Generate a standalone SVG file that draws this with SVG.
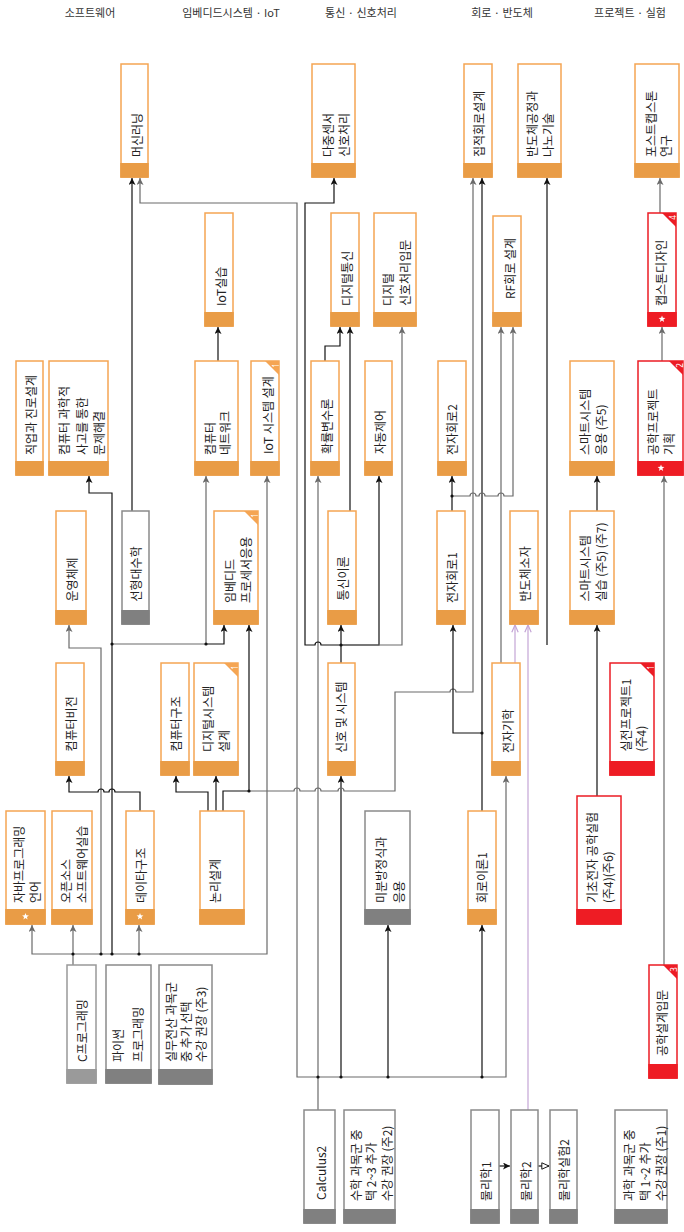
<svg xmlns="http://www.w3.org/2000/svg" xmlns:xlink="http://www.w3.org/1999/xlink" width="684" height="1232" viewBox="0 0 684 1232">
<defs>
<style>
.box{fill:#fff;stroke-width:1.5}
.o .box{stroke:#F5A553}.o .bar{fill:#E99C46}.o .cn{fill:#F5A553}
.g .box{stroke:#8a8a8a}.g .bar{fill:#808080}
.g2 .box{stroke:#999}.g2 .bar{fill:#9a9a9a}
.r .box{stroke:#EC1C24}.r .bar{fill:#EE1C24}.r .cn{fill:#EC1C24}
.t{font-family:"Noto Sans CJK KR","Noto Sans",sans-serif;font-size:12px;fill:#222;dominant-baseline:central}
.cd{font-family:"Noto Sans","Noto Sans CJK KR",sans-serif;font-size:8px;fill:#fff;dominant-baseline:central;text-anchor:middle}
.h{font-family:"Noto Sans CJK KR","Noto Sans",sans-serif;font-size:11px;fill:#333;text-anchor:middle}
.e{fill:none;stroke-width:1.2}
.k{stroke:#111}.gr{stroke:#6a6a6a}.p{stroke:#C4A5D6}
.ka{marker-end:url(#ak)}.ga{marker-end:url(#ag)}.pa{marker-end:url(#ap)}
.dot{fill:#111}
.star{fill:#fff}
</style>
<marker id="ak" viewBox="0 0 10 10" refX="10" refY="5" markerWidth="7" markerHeight="7" markerUnits="userSpaceOnUse" orient="auto"><path d="M0,0L10,5L0,10L2.5,5z" fill="#111"/></marker>
<marker id="ag" viewBox="0 0 10 10" refX="10" refY="5" markerWidth="7" markerHeight="7" markerUnits="userSpaceOnUse" orient="auto"><path d="M0,0L10,5L0,10L2.5,5z" fill="#6a6a6a"/></marker>
<marker id="ap" viewBox="0 0 10 10" refX="10" refY="5" markerWidth="8" markerHeight="8" markerUnits="userSpaceOnUse" orient="auto"><path d="M1,1L10,5L1,9" fill="none" stroke="#C4A5D6" stroke-width="1.5"/></marker>
<marker id="ao" viewBox="0 0 10 10" refX="10" refY="5" markerWidth="8" markerHeight="8" markerUnits="userSpaceOnUse" orient="auto"><path d="M1,1L10,5L1,9z" fill="#fff" stroke="#111" stroke-width="1.2"/></marker>
<path id="star" d="M0,-3.6L0.88,-1.21L3.42,-1.11L1.43,0.46L2.12,2.91L0,1.5L-2.12,2.91L-1.43,0.46L-3.42,-1.11L-0.88,-1.21Z"/>
</defs>
<rect width="684" height="1232" fill="#fff"/>

<g id="headers">
<text class="h" x="90" y="17">소프트웨어</text>
<text class="h" x="231" y="17">임베디드시스템 · IoT</text>
<text class="h" x="361" y="17">통신 · 신호처리</text>
<text class="h" x="502" y="17">회로 · 반도체</text>
<text class="h" x="630" y="17">프로젝트 · 실험</text>
</g>

<g id="connectors">
<path class="e k ka" d="M132,511V178"/>
<path class="e gr ga" d="M318,1077H297V203H140V178"/>
<path class="e gr ga" d="M318,1110V476"/>
<path class="e gr ga" d="M318,1077H506V776"/>
<path class="e k ka" d="M341,1077V776"/>
<path class="e k ka" d="M388,1077V925"/>
<path class="e k ka" d="M482,1077V925"/>
<path class="e k ka" d="M341,663V625"/>
<path class="e k ka" d="M341,645H321a3,3 0 0 0 -6,0H305V203H334V178"/>
<path class="e k ka" d="M341,645H379V476"/>
<path class="e gr ga" d="M341,645H402V327"/>
<path class="e k ka" d="M325,361V346H340V327"/>
<path class="e k ka" d="M350,511V327"/>
<path class="e k ka" d="M218,361V327"/>
<path class="e gr ga" d="M73,965V925"/>
<path class="e gr ga" d="M73,954H32V925"/>
<path class="e gr ga" d="M73,954H139V925"/>
<path class="e gr ga" d="M101,954V648H69V625"/>
<path class="e k ka" d="M112,954V493H89V476"/>
<path class="e gr ga" d="M112,644H206V476"/>
<path class="e k ka" d="M206,644H224V625"/>
<path class="e gr ga" d="M139,954H267V476"/>
<path class="e k ka" d="M140,811V792H115a3,3 0 0 0 -6,0H104a3,3 0 0 0 -6,0H69V776"/>
<path class="e k ka" d="M208,811V792H176V776"/>
<path class="e k ka" d="M216,811V776"/>
<path class="e k ka" d="M223,811V791H249V625"/>
<path class="e gr ga" d="M249,791H294a3,3 0 0 1 6,0H315a3,3 0 0 1 6,0H338a3,3 0 0 1 6,0H395V692H450a3,3 0 0 1 6,0H473V178"/>
<path class="e k ka" d="M482,811V733H453V625"/>
<path class="e k ka" d="M482,733V178"/>
<path class="e k ka" d="M452,511V476"/>
<path class="e gr ga" d="M452,496H470a3,3 0 0 1 6,0H479a3,3 0 0 1 6,0H498a3,3 0 0 1 6,0H513V327"/>
<path class="e gr ga" d="M501,663V327"/>
<path class="e p pa" d="M515,663V625"/>
<path class="e p pa" d="M528,1110V625"/>
<path class="e k ka" d="M547,645V178"/>
<path class="e k ka" d="M499,1166H510"/>
<path class="e k" marker-end="url(#ao)" d="M538,1166H549"/>
<path class="e k ka" d="M597,796V625"/>
<path class="e k ka" d="M597,511V476"/>
<path class="e gr ga" d="M664,965V476"/>
<path class="e gr ga" d="M662,361V327"/>
<path class="e gr ga" d="M660,213V178"/>
<g class="dot">
<circle cx="73" cy="954" r="1.6"/><circle cx="101" cy="954" r="1.6"/><circle cx="112" cy="954" r="1.6"/><circle cx="139" cy="954" r="1.6"/>
<circle cx="112" cy="644" r="1.6"/><circle cx="206" cy="644" r="1.6"/><circle cx="249" cy="791" r="1.6"/><circle cx="341" cy="645" r="1.6"/>
<circle cx="318" cy="1077" r="1.6"/><circle cx="341" cy="1077" r="1.6"/><circle cx="388" cy="1077" r="1.6"/><circle cx="482" cy="1077" r="1.6"/>
<circle cx="482" cy="733" r="1.6"/><circle cx="452" cy="496" r="1.6"/>
</g>
</g>

<g id="nodes">
<g id="n-ml" class="o"><rect class="box" x="121" y="64" width="27" height="113"/><rect class="bar" x="120.25" y="163" width="28.5" height="14.75"/><text class="t" transform="translate(136,157) rotate(-90)">머신러닝</text></g>
<g id="n-mss" class="o"><rect class="box" x="312" y="64" width="43" height="113"/><rect class="bar" x="311.25" y="163" width="44.5" height="14.75"/><text class="t" transform="translate(327.5,157) rotate(-90)">다중센서</text><text class="t" transform="translate(343,157) rotate(-90)">신호처리</text></g>
<g id="n-ic" class="o"><rect class="box" x="464" y="64" width="28" height="113"/><rect class="bar" x="463.25" y="163" width="29.5" height="14.75"/><text class="t" transform="translate(478,157) rotate(-90)">집적회로설계</text></g>
<g id="n-semi" class="o"><rect class="box" x="518" y="64" width="43" height="113"/><rect class="bar" x="517.25" y="163" width="44.5" height="14.75"/><text class="t" transform="translate(531.5,157) rotate(-90)">반도체공정과</text><text class="t" transform="translate(547.3,157) rotate(-90)">나노기술</text></g>
<g id="n-post" class="o"><rect class="box" x="635" y="64" width="44" height="113"/><rect class="bar" x="634.25" y="163" width="45.5" height="14.75"/><text class="t" transform="translate(650.5,157) rotate(-90)">포스트캡스톤</text><text class="t" transform="translate(665,157) rotate(-90)">연구</text></g>

<g id="n-iotlab" class="o"><rect class="box" x="205" y="213" width="28" height="113"/><rect class="bar" x="204.25" y="312" width="29.5" height="14.75"/><text class="t" transform="translate(220,306) rotate(-90)">IoT실습</text></g>
<g id="n-dcomm" class="o"><rect class="box" x="331" y="213" width="28" height="113"/><rect class="bar" x="330.25" y="312" width="29.5" height="14.75"/><text class="t" transform="translate(346.5,306) rotate(-90)">디지털통신</text></g>
<g id="n-dsp" class="o"><rect class="box" x="374" y="213" width="42" height="113"/><rect class="bar" x="373.25" y="312" width="43.5" height="14.75"/><text class="t" transform="translate(387,306) rotate(-90)">디지털</text><text class="t" transform="translate(404,306) rotate(-90)">신호처리입문</text></g>
<g id="n-rf" class="o"><rect class="box" x="493" y="216" width="28" height="110"/><rect class="bar" x="492.25" y="312" width="29.5" height="14.75"/><text class="t" transform="translate(509,299) rotate(-90)">RF회로 설계</text></g>
<g id="n-cap" class="r"><rect class="box" x="648" y="213" width="28" height="113"/><rect class="bar" x="647.25" y="312" width="29.5" height="14.75"/><polygon class="cn" points="662,213 676,213 676,227"/><text class="cd" transform="translate(672,217.5) rotate(-90)">4</text><use href="#star" class="star" x="662" y="319"/><text class="t" transform="translate(660.5,306) rotate(-90)">캡스톤디자인</text></g>

<g id="n-career" class="o"><rect class="box" x="16" y="361" width="27" height="114"/><rect class="bar" x="15.25" y="461" width="28.5" height="14.75"/><text class="t" transform="translate(30,455) rotate(-90)">직업과 진로설계</text></g>
<g id="n-ct" class="o"><rect class="box" x="49" y="361" width="59" height="114"/><rect class="bar" x="48.25" y="461" width="60.5" height="14.75"/><text class="t" transform="translate(63.7,455) rotate(-90)">컴퓨터 과학적</text><text class="t" transform="translate(81.5,455) rotate(-90)">사고를 통한</text><text class="t" transform="translate(98.5,455) rotate(-90)">문제해결</text></g>
<g id="n-net" class="o"><rect class="box" x="195" y="361" width="43" height="114"/><rect class="bar" x="194.25" y="461" width="44.5" height="14.75"/><text class="t" transform="translate(209,455) rotate(-90)">컴퓨터</text><text class="t" transform="translate(224,455) rotate(-90)">네트워크</text></g>
<g id="n-iotsys" class="o"><rect class="box" x="251" y="361" width="28" height="114"/><rect class="bar" x="250.25" y="461" width="29.5" height="14.75"/><polygon class="cn" points="265,361 279,361 279,375"/><text class="cd" transform="translate(275,365.5) rotate(-90)">1</text><text class="t" transform="translate(267,454) rotate(-90)">IoT 시스템 설계</text></g>
<g id="n-prob" class="o"><rect class="box" x="311" y="361" width="28" height="114"/><rect class="bar" x="310.25" y="461" width="29.5" height="14.75"/><text class="t" transform="translate(326,454) rotate(-90)">확률변수론</text></g>
<g id="n-ctrl" class="o"><rect class="box" x="365" y="361" width="27" height="114"/><rect class="bar" x="364.25" y="461" width="28.5" height="14.75"/><text class="t" transform="translate(379,454) rotate(-90)">자동제어</text></g>
<g id="n-ec2" class="o"><rect class="box" x="438" y="361" width="28" height="114"/><rect class="bar" x="437.25" y="461" width="29.5" height="14.75"/><text class="t" transform="translate(451,455) rotate(-90)">전자회로2</text></g>
<g id="n-sapp" class="o"><rect class="box" x="570" y="361" width="44" height="114"/><rect class="bar" x="569.25" y="461" width="45.5" height="14.75"/><text class="t" transform="translate(584.5,455) rotate(-90)">스마트시스템</text><text class="t" transform="translate(600,455) rotate(-90)">응용 (주5)</text></g>
<g id="n-epp" class="r"><rect class="box" x="638" y="361" width="45" height="114"/><rect class="bar" x="637.25" y="461" width="46.5" height="14.75"/><polygon class="cn" points="669,361 683,361 683,375"/><text class="cd" transform="translate(679,365.5) rotate(-90)">2</text><use href="#star" class="star" x="661" y="468"/><text class="t" transform="translate(652.5,455) rotate(-90)">공학프로젝트</text><text class="t" transform="translate(668,455) rotate(-90)">기획</text></g>

<g id="n-os" class="o"><rect class="box" x="56" y="511" width="30" height="113"/><rect class="bar" x="55.25" y="610" width="31.5" height="14.75"/><text class="t" transform="translate(71.5,601.5) rotate(-90)">운영체제</text></g>
<g id="n-la" class="g"><rect class="box" x="122" y="511" width="27" height="113"/><rect class="bar" x="121.25" y="610" width="28.5" height="14.75"/><text class="t" transform="translate(135.3,601.5) rotate(-90)">선형대수학</text></g>
<g id="n-emb" class="o"><rect class="box" x="214" y="511" width="44" height="113"/><rect class="bar" x="213.25" y="610" width="45.5" height="14.75"/><polygon class="cn" points="244,511 258,511 258,525"/><text class="cd" transform="translate(254,515.5) rotate(-90)">1</text><text class="t" transform="translate(229,603) rotate(-90)">임베디드</text><text class="t" transform="translate(245,603) rotate(-90)">프로세서응용</text></g>
<g id="n-comm" class="o"><rect class="box" x="328" y="511" width="28" height="113"/><rect class="bar" x="327.25" y="610" width="29.5" height="14.75"/><text class="t" transform="translate(342,600.5) rotate(-90)">통신이론</text></g>
<g id="n-ec1" class="o"><rect class="box" x="437" y="511" width="28" height="113"/><rect class="bar" x="436.25" y="610" width="29.5" height="14.75"/><text class="t" transform="translate(451,603) rotate(-90)">전자회로1</text></g>
<g id="n-sdev" class="o"><rect class="box" x="510" y="511" width="28" height="113"/><rect class="bar" x="509.25" y="610" width="29.5" height="14.75"/><text class="t" transform="translate(524,601.5) rotate(-90)">반도체소자</text></g>
<g id="n-slab" class="o"><rect class="box" x="570" y="511" width="44" height="113"/><rect class="bar" x="569.25" y="610" width="45.5" height="14.75"/><text class="t" transform="translate(584.5,601.5) rotate(-90)">스마트시스템</text><text class="t" transform="translate(600,601.5) rotate(-90)">실습 (주5) (주7)</text></g>

<g id="n-cv" class="o"><rect class="box" x="56" y="663" width="28" height="112"/><rect class="bar" x="55.25" y="761" width="29.5" height="14.75"/><text class="t" transform="translate(70,751.5) rotate(-90)">컴퓨터비전</text></g>
<g id="n-ca" class="o"><rect class="box" x="161" y="663" width="28" height="112"/><rect class="bar" x="160.25" y="761" width="29.5" height="14.75"/><text class="t" transform="translate(175,751.5) rotate(-90)">컴퓨터구조</text></g>
<g id="n-dsd" class="o"><rect class="box" x="194" y="663" width="44" height="112"/><rect class="bar" x="193.25" y="761" width="45.5" height="14.75"/><polygon class="cn" points="224,663 238,663 238,677"/><text class="cd" transform="translate(234,667.5) rotate(-90)">1</text><text class="t" transform="translate(207.5,752) rotate(-90)">디지털시스템</text><text class="t" transform="translate(223,752) rotate(-90)">설계</text></g>
<g id="n-ss" class="o"><rect class="box" x="328" y="663" width="27" height="112"/><rect class="bar" x="327.25" y="761" width="28.5" height="14.75"/><text class="t" transform="translate(340.5,753) rotate(-90)">신호 및 시스템</text></g>
<g id="n-em" class="o"><rect class="box" x="492" y="663" width="28" height="112"/><rect class="bar" x="491.25" y="761" width="29.5" height="14.75"/><text class="t" transform="translate(507,753) rotate(-90)">전자기학</text></g>
<g id="n-pp1" class="r"><rect class="box" x="610" y="663" width="44" height="112"/><rect class="bar" x="609.25" y="761" width="45.5" height="14.75"/><polygon class="cn" points="640,663 654,663 654,677"/><text class="cd" transform="translate(650,667.5) rotate(-90)">1</text><text class="t" transform="translate(625,751.5) rotate(-90)">실전프로젝트1</text><text class="t" transform="translate(640,751.5) rotate(-90)">(주4)</text></g>

<g id="n-java" class="o"><rect class="box" x="6" y="811" width="39" height="113"/><rect class="bar" x="5.25" y="909" width="40.5" height="15.75"/><use href="#star" class="star" x="25.5" y="916.5"/><text class="t" transform="translate(18,903) rotate(-90)">자바프로그래밍</text><text class="t" transform="translate(34,903) rotate(-90)">언어</text></g>
<g id="n-oss" class="o"><rect class="box" x="52" y="811" width="40" height="113"/><rect class="bar" x="51.25" y="909" width="41.5" height="15.75"/><text class="t" transform="translate(65.3,903) rotate(-90)">오픈소스</text><text class="t" transform="translate(81,903) rotate(-90)">소프트웨어실습</text></g>
<g id="n-ds" class="o"><rect class="box" x="126" y="811" width="28" height="113"/><rect class="bar" x="125.25" y="909" width="29.5" height="15.75"/><use href="#star" class="star" x="140" y="916.5"/><text class="t" transform="translate(140,903) rotate(-90)">데이타구조</text></g>
<g id="n-logic" class="o"><rect class="box" x="200" y="811" width="44" height="113"/><rect class="bar" x="199.25" y="909" width="45.5" height="15.75"/><text class="t" transform="translate(214,903) rotate(-90)">논리설계</text></g>
<g id="n-de" class="g"><rect class="box" x="365" y="811" width="45" height="113"/><rect class="bar" x="364.25" y="909" width="46.5" height="15.75"/><text class="t" transform="translate(380,903) rotate(-90)">미분방정식과</text><text class="t" transform="translate(398,903) rotate(-90)">응용</text></g>
<g id="n-ct1" class="o"><rect class="box" x="468" y="811" width="28" height="113"/><rect class="bar" x="467.25" y="909" width="29.5" height="15.75"/><text class="t" transform="translate(481.5,903) rotate(-90)">회로이론1</text></g>
<g id="n-bee" class="r"><rect class="box" x="577" y="796" width="44" height="128"/><rect class="bar" x="576.25" y="909" width="45.5" height="15.75"/><text class="t" transform="translate(591.5,903) rotate(-90)">기초전자 공학실험</text><text class="t" transform="translate(607,903) rotate(-90)">(주4)(주6)</text></g>

<g id="n-c" class="g2"><rect class="box" x="67" y="965" width="29" height="118"/><rect class="bar" x="66.25" y="1069" width="30.5" height="14.75"/><text class="t" transform="translate(81.5,1062) rotate(-90)">C프로그래밍</text></g>
<g id="n-py" class="g"><rect class="box" x="106" y="965" width="45" height="118"/><rect class="bar" x="105.25" y="1069" width="46.5" height="14.75"/><text class="t" transform="translate(117.5,1062) rotate(-90)">파이썬</text><text class="t" transform="translate(137.5,1062) rotate(-90)">프로그래밍</text></g>
<g id="n-prac" class="g"><rect class="box" x="159" y="965" width="53" height="119"/><rect class="bar" x="158.25" y="1069" width="54.5" height="15.75"/><text class="t" transform="translate(170.8,1062) rotate(-90)">실무전산 과목군</text><text class="t" transform="translate(185.8,1062) rotate(-90)">중 추가 선택</text><text class="t" transform="translate(200.8,1062) rotate(-90)">수강 권장 (주3)</text></g>
<g id="n-ed" class="r"><rect class="box" x="649" y="965" width="28" height="113"/><rect class="bar" x="648.25" y="1064" width="29.5" height="14.75"/><polygon class="cn" points="663,965 677,965 677,979"/><text class="cd" transform="translate(673,969.5) rotate(-90)">3</text><text class="t" transform="translate(661.5,1056) rotate(-90)">공학설계입문</text></g>

<g id="n-calc" class="g"><rect class="box" x="304" y="1110" width="31" height="113"/><rect class="bar" x="303.25" y="1209" width="32.5" height="14.75"/><text class="t" transform="translate(320.3,1200) rotate(-90)">Calculus2</text></g>
<g id="n-math" class="g"><rect class="box" x="344" y="1110" width="51" height="113"/><rect class="bar" x="343.25" y="1209" width="52.5" height="14.75"/><text class="t" transform="translate(355,1201) rotate(-90)">수학 과목군 중</text><text class="t" transform="translate(370.5,1201) rotate(-90)">택 2~3 추가</text><text class="t" transform="translate(386,1201) rotate(-90)">수강 권장 (주2)</text></g>
<g id="n-phy1" class="g"><rect class="box" x="471" y="1110" width="28" height="113"/><rect class="bar" x="470.25" y="1209" width="29.5" height="14.75"/><text class="t" transform="translate(485,1201) rotate(-90)">물리학1</text></g>
<g id="n-phy2" class="g"><rect class="box" x="511" y="1110" width="27" height="113"/><rect class="bar" x="510.25" y="1209" width="28.5" height="14.75"/><text class="t" transform="translate(525,1201) rotate(-90)">물리학2</text></g>
<g id="n-phylab" class="g"><rect class="box" x="550" y="1110" width="27" height="113"/><rect class="bar" x="549.25" y="1209" width="28.5" height="14.75"/><text class="t" transform="translate(563.3,1201) rotate(-90)">물리학실험2</text></g>
<g id="n-sci" class="g"><rect class="box" x="615" y="1110" width="52" height="113"/><rect class="bar" x="614.25" y="1209" width="53.5" height="14.75"/><text class="t" transform="translate(628.2,1201) rotate(-90)">과학 과목군 중</text><text class="t" transform="translate(644.5,1201) rotate(-90)">택 1~2 추가</text><text class="t" transform="translate(660,1201) rotate(-90)">수강 권장 (주1)</text></g>
</g>
</svg>
